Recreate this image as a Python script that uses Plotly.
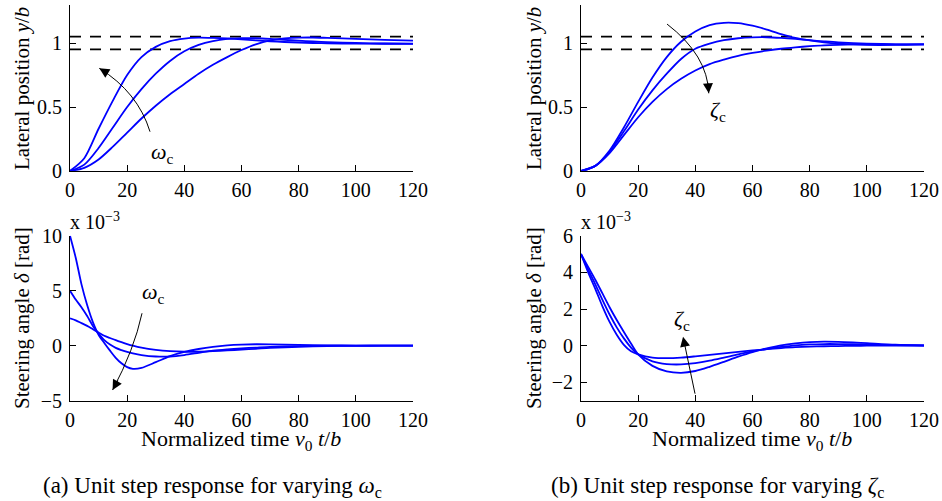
import plotly.graph_objects as go

# ---------------- data ----------------
# top panels: lateral position y/b
t_top = [0, 5, 10, 15, 20, 25, 30, 35, 40, 45, 50, 55, 60, 65, 70, 75, 80, 85, 90, 100, 110, 120]
y_w_high = [0, 0.10, 0.33, 0.55, 0.75, 0.89, 0.97, 1.015, 1.035, 1.042, 1.04, 1.035, 1.028, 1.02, 1.013,
            1.008, 1.004, 1.0, 0.998, 0.995, 0.994, 0.993]
y_w_mid = [0, 0.05, 0.18, 0.34, 0.50, 0.64, 0.76, 0.86, 0.935, 0.985, 1.015, 1.032, 1.038, 1.037, 1.032,
           1.025, 1.018, 1.012, 1.007, 1.0, 0.996, 0.995]
y_w_low = [0, 0.025, 0.09, 0.19, 0.30, 0.41, 0.51, 0.60, 0.68, 0.76, 0.83, 0.89, 0.945, 0.99, 1.02,
           1.035, 1.042, 1.043, 1.04, 1.033, 1.025, 1.018]

y_z_low = [0, 0.04, 0.16, 0.34, 0.54, 0.73, 0.89, 1.01, 1.09, 1.14, 1.158, 1.155, 1.135, 1.105, 1.07,
           1.04, 1.02, 1.005, 0.995, 0.985, 0.985, 0.99]
y_z_mid = [0, 0.04, 0.15, 0.31, 0.48, 0.63, 0.76, 0.875, 0.955, 0.995, 1.022, 1.037, 1.044, 1.045, 1.04,
           1.032, 1.022, 1.013, 1.005, 0.995, 0.99, 0.99]
y_z_high = [0, 0.04, 0.14, 0.28, 0.42, 0.54, 0.64, 0.72, 0.785, 0.835, 0.87, 0.90, 0.922, 0.94, 0.955,
            0.966, 0.975, 0.982, 0.986, 0.99, 0.99, 0.99]

band_t = [0, 120]
band_hi = [1.05, 1.05]
band_lo = [0.95, 0.95]

# bottom-left: steering angle (x 1e-3), varying omega_c
t_bl = [0, 2, 4, 6, 8, 10, 12, 14, 16, 18, 20, 22, 25, 30, 35, 40, 45, 50, 55, 60, 65, 70, 80, 90, 100, 110, 120]
d_w_high = [10, 8.0, 5.6, 3.7, 2.15, 1.0, 0.25, -0.45, -1.1, -1.6, -1.95, -2.1, -2.02, -1.5, -0.95, -0.57,
            -0.3, -0.1, 0.03, 0.1, 0.13, 0.12, 0.07, 0.03, 0.01, 0.0, 0.0]
d_w_mid = [5, 4.2, 3.5, 2.7, 1.8, 1.1, 0.5, 0.1, -0.2, -0.4, -0.57, -0.7, -0.85, -0.98, -0.98, -0.85,
           -0.65, -0.45, -0.33, -0.24, -0.17, -0.1, -0.03, 0.0, 0.0, 0.0, 0.0]
d_w_low = [2.48, 2.3, 2.05, 1.8, 1.5, 1.2, 0.9, 0.7, 0.5, 0.32, 0.15, 0.0, -0.18, -0.38, -0.5, -0.55,
           -0.55, -0.5, -0.43, -0.35, -0.28, -0.2, -0.1, -0.04, -0.01, 0.0, 0.0]

# bottom-right: steering angle (x 1e-3), varying zeta_c
t_br = [0, 2.5, 5, 7.5, 10, 12.5, 15, 17.5, 20, 25, 30, 35, 40, 45, 50, 55, 60, 65, 70, 75, 80, 85, 90, 95,
        100, 110, 120]
d_z_low = [5, 4.3, 3.6, 2.85, 2.1, 1.4, 0.75, 0.12, -0.47, -1.1, -1.4, -1.48, -1.38, -1.15, -0.88, -0.6,
           -0.35, -0.15, 0.02, 0.13, 0.2, 0.22, 0.21, 0.18, 0.14, 0.06, 0.02]
d_z_mid = [5, 4.15, 3.35, 2.5, 1.7, 1.0, 0.4, -0.1, -0.47, -0.85, -1.0, -1.02, -0.95, -0.82, -0.65, -0.47,
           -0.31, -0.18, -0.07, 0.02, 0.07, 0.09, 0.09, 0.08, 0.06, 0.03, 0.01]
d_z_high = [5, 4.0, 3.1, 2.15, 1.3, 0.6, 0.05, -0.3, -0.47, -0.65, -0.68, -0.65, -0.58, -0.5, -0.42, -0.34,
            -0.26, -0.19, -0.13, -0.08, -0.05, -0.03, -0.02, -0.01, 0.0, 0.0, 0.0]

x_ticks = [0, 20, 40, 60, 80, 100, 120]
top_ticks = [0, 0.5, 1]
top_ticktext = ["0", "0.5", "1"]
bl_ticks = [-5, 0, 5, 10]
bl_ticktext = ["\u22125", "0", "5", "10"]
br_ticks = [-2, 0, 2, 4, 6]
br_ticktext = ["\u22122", "0", "2", "4", "6"]

# ---------------- figure ----------------
W, H = 942, 501
FONT = "Liberation Serif"
BLUE = "#0000ff"
TICK = 20
fig = go.Figure()

def px_x(p):
    return p / W

def px_y(p):
    return 1 - p / H

def add_lines(t, series, xa, ya):
    for s in series:
        fig.add_trace(go.Scatter(x=t, y=s, mode="lines", xaxis=xa, yaxis=ya,
                                 line=dict(color=BLUE, width=1.8, shape="spline", smoothing=0.8),
                                 showlegend=False, hoverinfo="skip"))

for xa, ya in [("x", "y"), ("x2", "y2")]:
    for b in (band_hi, band_lo):
        fig.add_trace(go.Scatter(x=band_t, y=b, mode="lines", xaxis=xa, yaxis=ya,
                                 line=dict(color="black", width=1.6, dash="11px,9px"),
                                 showlegend=False, hoverinfo="skip"))

add_lines(t_top, [y_w_high, y_w_mid, y_w_low], "x", "y")
add_lines(t_top, [y_z_low, y_z_mid, y_z_high], "x2", "y2")
add_lines(t_bl, [d_w_high, d_w_mid, d_w_low], "x3", "y3")
add_lines(t_br, [d_z_low, d_z_mid, d_z_high], "x4", "y4")

left_dom = [px_x(70), px_x(413)]
right_dom = [px_x(581), px_x(924)]
top_dom = [px_y(171), px_y(4.6)]
bot_dom = [px_y(400.7), px_y(235.7)]

xcommon = dict(range=[0, 120], tickvals=x_ticks, ticks="inside", ticklen=6, tickcolor="black",
               showline=True, linecolor="black", linewidth=1, showgrid=False, zeroline=False,
               automargin=False, ticklabelstandoff=1,
               tickfont=dict(family=FONT, size=TICK, color="black"))
ycommon = dict(ticks="inside", ticklen=6, tickcolor="black", showline=True, linecolor="black",
               linewidth=1, showgrid=False, zeroline=False, automargin=False, ticklabelstandoff=3,
               tickfont=dict(family=FONT, size=TICK, color="black"))

fig.update_layout(
    width=W, height=H, margin=dict(l=0, r=0, t=0, b=0, autoexpand=False),
    paper_bgcolor="white", plot_bgcolor="white",
    font=dict(family=FONT, size=TICK, color="black"),
    xaxis=dict(domain=left_dom, anchor="y", **xcommon),
    xaxis2=dict(domain=right_dom, anchor="y2", **xcommon),
    xaxis3=dict(domain=left_dom, anchor="y3", **xcommon),
    xaxis4=dict(domain=right_dom, anchor="y4", **xcommon),
    yaxis=dict(domain=top_dom, anchor="x", range=[0, 1.3], tickvals=top_ticks, ticktext=top_ticktext, **ycommon),
    yaxis2=dict(domain=top_dom, anchor="x2", range=[0, 1.3], tickvals=top_ticks, ticktext=top_ticktext, **ycommon),
    yaxis3=dict(domain=bot_dom, anchor="x3", range=[-5, 10], tickvals=bl_ticks, ticktext=bl_ticktext, **ycommon),
    yaxis4=dict(domain=bot_dom, anchor="x4", range=[-3, 6], tickvals=br_ticks, ticktext=br_ticktext, **ycommon),
)

ann = []
# axis titles
for xc, yc, txt in [(22, 89, "Lateral position <i>y</i>/<i>b</i>"),
                    (534, 89, "Lateral position <i>y</i>/<i>b</i>"),
                    (22, 318, "Steering angle <i>\u03b4</i> [rad]"),
                    (534, 318, "Steering angle <i>\u03b4</i> [rad]")]:
    ann.append(dict(x=px_x(xc), y=px_y(yc), xref="paper", yref="paper", text=txt, textangle=-90,
                    showarrow=False, xanchor="center", yanchor="middle",
                    font=dict(family=FONT, size=21)))
for xc in (241, 752):
    ann.append(dict(x=px_x(xc), y=px_y(440), xref="paper", yref="paper",
                    text="Normalized time <i>v</i><sub>0</sub> <i>t</i>/<i>b</i>",
                    showarrow=False, xanchor="center", yanchor="middle", font=dict(family=FONT, size=22)))
for xl in (70, 581):
    ann.append(dict(x=px_x(xl - 2), y=px_y(221), xref="paper", yref="paper",
                    text="x 10<sup>\u22123</sup>", showarrow=False, xanchor="left", yanchor="middle",
                    font=dict(family=FONT, size=TICK)))
ann.append(dict(x=px_x(212), y=px_y(487), xref="paper", yref="paper",
                text="(a) Unit step response for varying <i>\u03c9</i><sub>c</sub>",
                showarrow=False, xanchor="center", yanchor="middle", font=dict(family=FONT, size=23)))
ann.append(dict(x=px_x(717), y=px_y(487), xref="paper", yref="paper",
                text="(b) Unit step response for varying <i>\u03b6</i><sub>c</sub>",
                showarrow=False, xanchor="center", yanchor="middle", font=dict(family=FONT, size=23)))

# parameter labels
ann.append(dict(x=32.2, y=0.14, xref="x", yref="y", text="<i>\u03c9</i><sub>c</sub>", showarrow=False,
                font=dict(family=FONT, size=22)))
ann.append(dict(x=47.9, y=0.47, xref="x2", yref="y2", text="<i>\u03b6</i><sub>c</sub>", showarrow=False,
                font=dict(family=FONT, size=22)))
ann.append(dict(x=29.2, y=4.75, xref="x3", yref="y3", text="<i>\u03c9</i><sub>c</sub>", showarrow=False,
                font=dict(family=FONT, size=22)))
ann.append(dict(x=35.4, y=1.41, xref="x4", yref="y4", text="<i>\u03b6</i><sub>c</sub>", showarrow=False,
                font=dict(family=FONT, size=22)))

# arrow heads
head = dict(showarrow=True, arrowhead=2, arrowsize=2, arrowwidth=1, arrowcolor="black", text="")
ann.append(dict(x=10.25, y=0.802, xref="x", yref="y", ax=10, ay=6, **head))
ann.append(dict(x=44.7, y=0.607, xref="x2", yref="y2", ax=-1, ay=-12, **head))
ann.append(dict(x=14.9, y=-4.03, xref="x3", yref="y3", ax=6, ay=-11, **head))
ann.append(dict(x=35.7, y=0.49, xref="x4", yref="y4", ax=40.0, ay=-2.7, axref="x4", ayref="y4", **head))
fig.update_layout(annotations=ann)

# curved arrow bodies
shapes = [
    dict(type="path", xref="x", yref="y", path="M 28,0.307 Q 23.7,0.617 10.25,0.802",
         line=dict(color="black", width=1)),
    dict(type="path", xref="x2", yref="y2", path="M 30.1,1.148 Q 44.3,0.904 44.7,0.607",
         line=dict(color="black", width=1)),
    dict(type="path", xref="x3", yref="y3", path="M 25.2,2.95 Q 22.4,-0.39 14.9,-4.03",
         line=dict(color="black", width=1)),
]
fig.update_layout(shapes=shapes)

page_fix = ("document.body.style.margin='0';document.body.style.padding='0';"
            "document.body.style.overflow='hidden';document.documentElement.style.overflow='hidden';")
fig.write_html("out.html", post_script=page_fix, config={"displayModeBar": False})
